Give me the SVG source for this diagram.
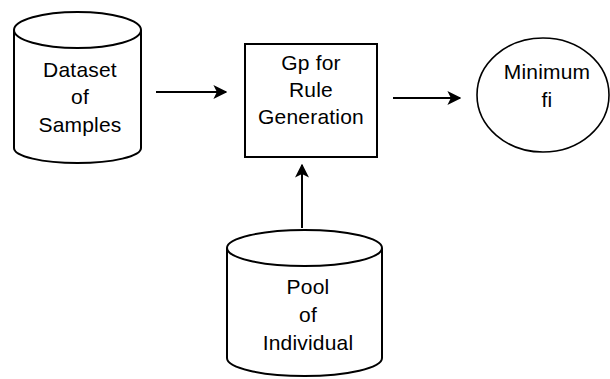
<svg xmlns="http://www.w3.org/2000/svg" width="610" height="379" viewBox="0 0 610 379">
  <defs>
    <marker id="arrow" viewBox="0 0 10 10" refX="9" refY="5" markerWidth="7" markerHeight="7" markerUnits="strokeWidth" orient="auto">
      <path d="M0,0 L10,5 L0,10 L2.5,5 z" fill="#000"/>
    </marker>
  </defs>
  <style>
    .shape { fill: #fff; stroke: #000; stroke-width: 2; }
    .thin { fill: #fff; stroke: #000; stroke-width: 1.6; }
    .label { font-family: "Liberation Sans", Arial, sans-serif; font-size: 21px; fill: #000; text-anchor: middle; letter-spacing: 0.2px; }
    .edge { stroke: #000; stroke-width: 2; fill: none; marker-end: url(#arrow); }
  </style>
  <rect width="610" height="379" fill="#fff"/>

  <!-- Dataset of Samples: database cylinder -->
  <g id="dataset">
    <path class="shape" d="M14,30 L14,148 A63.5,15 0 0 0 141,148 L141,30"/>
    <ellipse class="shape" cx="77.5" cy="30" rx="63.5" ry="18"/>
    <text class="label" x="80" y="77">Dataset</text>
    <text class="label" x="80" y="104">of</text>
    <text class="label" x="80" y="132">Samples</text>
  </g>

  <!-- GP for Rule Generation: process box -->
  <g id="gp">
    <rect class="shape" x="245" y="44" width="132" height="113"/>
    <text class="label" x="311" y="70">Gp for</text>
    <text class="label" x="311" y="97">Rule</text>
    <text class="label" x="311" y="124">Generation</text>
  </g>

  <!-- Minimum fi: result ellipse -->
  <g id="minimum">
    <ellipse class="thin" cx="543" cy="95" rx="66" ry="57"/>
    <text class="label" x="547" y="79">Minimum</text>
    <text class="label" x="547" y="107">fi</text>
  </g>

  <!-- Pool of Individual: database cylinder -->
  <g id="pool">
    <path class="shape" d="M227,248 L227,358 A77.5,18 0 0 0 382,358 L382,248"/>
    <ellipse class="shape" cx="304.5" cy="248" rx="77.5" ry="18"/>
    <text class="label" x="308" y="294">Pool</text>
    <text class="label" x="308" y="322">of</text>
    <text class="label" x="308" y="350">Individual</text>
  </g>

  <!-- connectors -->
  <g id="edges">
    <line class="edge" x1="156" y1="92" x2="226" y2="92"/>
    <line class="edge" x1="393" y1="98" x2="460" y2="98"/>
    <line class="edge" x1="302" y1="228" x2="302" y2="165"/>
  </g>
</svg>
